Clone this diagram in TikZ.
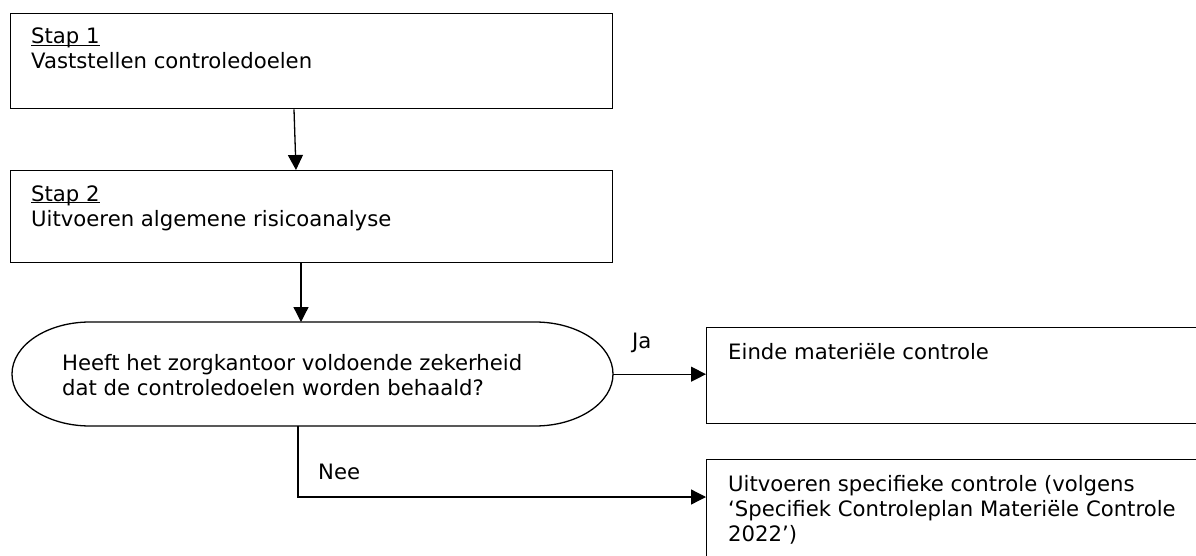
\documentclass[tikz,border=0pt]{standalone}
\usepackage{fontspec}
\setmainfont{DejaVu Sans}
\usetikzlibrary{arrows.meta,calc}
\newcommand\stapul[1]{\setbox0\hbox{#1}\rlap{\rule[-2.4pt]{\wd0}{1.2pt}}\box0}
\begin{document}
\begin{tikzpicture}[x=1pt,y=1pt,
  txt/.style={anchor=base west,inner sep=0pt,font=\fontsize{21.2}{25}\selectfont},
  stepbox/.style={draw,line width=1.4pt,rectangle,anchor=north west,inner sep=0pt},
  arr/.style={line width=1.3pt,-{Triangle[length=15pt,width=15pt]}}]
\useasboundingbox (0,0) rectangle (1196,-556);
\clip (0,0) rectangle (1196,-556);
% boxes
\node[stepbox,minimum width=602pt,minimum height=95pt] (b1) at (10,-13) {};
\node[stepbox,minimum width=602pt,minimum height=92pt] (b2) at (10,-170) {};
\node[stepbox,minimum width=520pt,minimum height=96pt] (b3) at (706,-327) {};
\node[stepbox,minimum width=520pt,minimum height=130pt] (b4) at (706,-459) {};
% decision shape
\node[inner sep=0pt,minimum width=601pt,minimum height=104pt,anchor=north west] (dec) at (12,-322) {};
\draw[line width=1.3pt] (90,-322) -- (535,-322)
  arc[start angle=90,end angle=-90,x radius=78,y radius=52]
  -- (90,-426)
  arc[start angle=270,end angle=90,x radius=78,y radius=52] -- cycle;
% texts
\node[txt] (t1a) at (31,-44) {\stapul{Stap 1}};
\node[txt] (t1b) at (31,-69) {Vaststellen controledoelen};
\node[txt] (t2a) at (31,-201) {\stapul{Stap 2}};
\node[txt] (t2b) at (31,-226) {Uitvoeren algemene risicoanalyse};
\node[txt] (td1) at (62,-370) {Heeft het zorgkantoor voldoende zekerheid};
\node[txt] (td2) at (62,-395) {dat de controledoelen worden behaald?};
\node[txt] (t3) at (728,-359) {Einde materiële controle};
\node[txt] (t4a) at (728,-491) {Uitvoeren specifieke controle (volgens};
\node[txt] (t4b) at (728,-516) {‘Specifiek Controleplan Materiële Controle};
\node[txt] (t4c) at (728,-541) {2022’)};
\node[txt] (lja) at (632,-348) {Ja};
\node[txt] (lnee) at (318,-479) {Nee};
% connectors
\draw[arr] ($(b1.south west)+(284,0)$) -- ($(b2.north west)+(286,0)$);
\draw[arr] ($(b2.south west)+(291,0)$) -- ($(dec.north west)+(289,0)$);
\draw[arr] (dec.east) -- (dec.east -| b3.west);
\coordinate (nstart) at ($(dec.south west)+(286,0)$);
\coordinate (nend) at ($(b4.north west)+(0,-38)$);
\draw[arr] (nstart) |- (nend);
\end{tikzpicture}
\end{document}
